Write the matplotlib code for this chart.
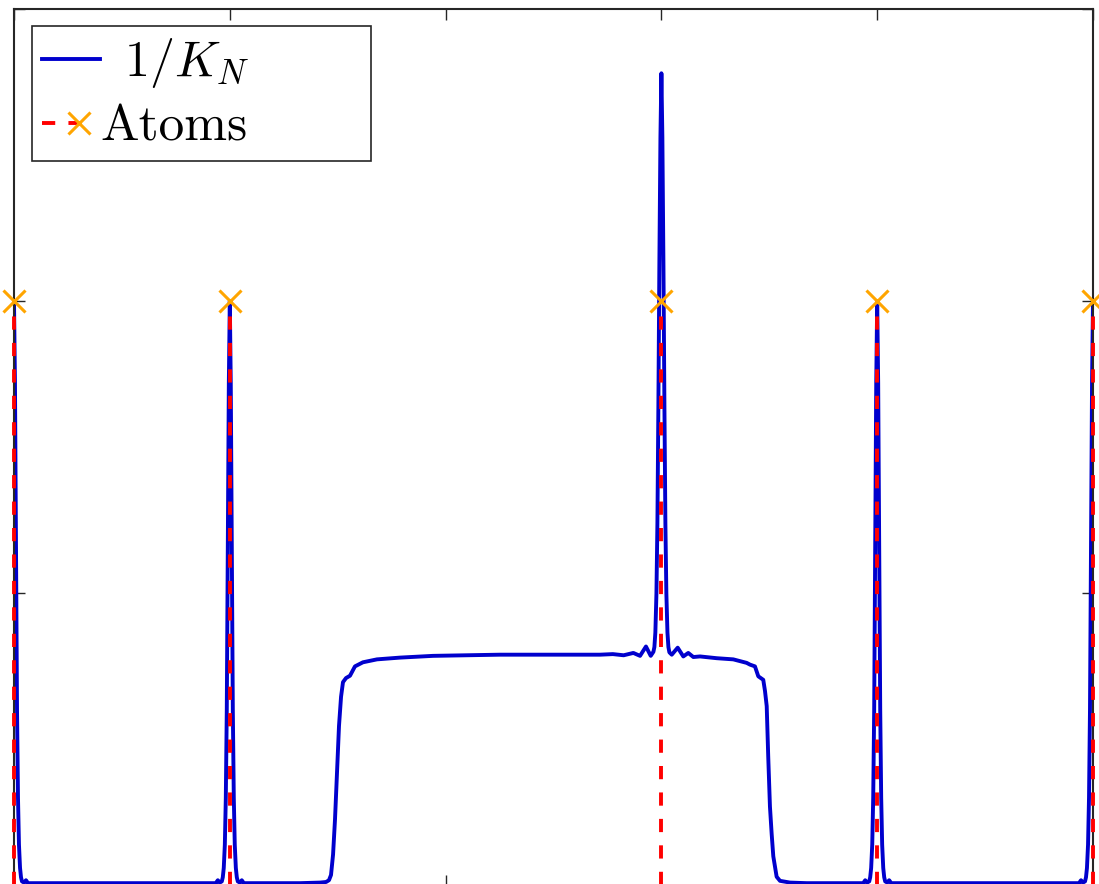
import matplotlib
matplotlib.use("Agg")
import matplotlib.pyplot as plt
from matplotlib.lines import Line2D
from matplotlib.legend_handler import HandlerBase

plt.rcParams['mathtext.fontset'] = 'cm'

# ---- data ----
atom_x = [0.0, 0.2, 0.6, 0.8, 1.0]
atom_w = [1.0, 1.0, 1.0, 1.0, 1.0]

kn_x_left = [0.0, 0.0009, 0.0019, 0.0028, 0.0037, 0.0046, 0.0056, 0.0065, 0.0074,
             0.0093, 0.0111, 0.0130, 0.0148, 0.05, 0.10, 0.15]
kn_y_left = [1.0, 0.86, 0.58, 0.30, 0.15, 0.07, 0.03, 0.014, 0.007,
             0.005, 0.009, 0.004, 0.004, 0.004, 0.004, 0.004]

kn_x_a2 = [0.1852, 0.1870, 0.1889, 0.1907, 0.1926, 0.1935, 0.1944, 0.1954, 0.1963,
           0.1972, 0.1981, 0.1991, 0.2000, 0.2009, 0.2019, 0.2028, 0.2037, 0.2046,
           0.2056, 0.2065, 0.2074, 0.2093, 0.2111, 0.2130, 0.2148, 0.24, 0.2651]
kn_y_a2 = [0.004, 0.004, 0.009, 0.005, 0.007, 0.014, 0.03, 0.07, 0.15,
           0.30, 0.58, 0.86, 1.0, 0.86, 0.58, 0.30, 0.15, 0.07,
           0.03, 0.014, 0.007, 0.005, 0.009, 0.004, 0.004, 0.004, 0.004]

kn_x_plat = [0.2836, 0.2892, 0.2919, 0.2938, 0.2957, 0.2975, 0.2994, 0.3012, 0.3031,
             0.3049, 0.3077, 0.3114, 0.3160, 0.3234, 0.3364, 0.3577, 0.3883, 0.4504,
             0.5000, 0.5431, 0.5550, 0.5650, 0.5740, 0.5802, 0.5857, 0.5901,
             0.5926, 0.5935, 0.5944, 0.5954, 0.5963, 0.5972, 0.5981, 0.5991, 0.6000,
             0.6009, 0.6019, 0.6028, 0.6037, 0.6046, 0.6056, 0.6065, 0.6074,
             0.6096, 0.6151, 0.6203, 0.6249, 0.6296, 0.6358, 0.6512, 0.6666, 0.6790,
             0.6821, 0.6867, 0.6898, 0.6944, 0.6960, 0.6976, 0.6990, 0.7006, 0.7022,
             0.7037, 0.7068, 0.7099, 0.7192, 0.7346, 0.7600]
kn_y_plat = [0.005, 0.006, 0.009, 0.018, 0.053, 0.113, 0.193, 0.273, 0.323,
             0.348, 0.355, 0.359, 0.375, 0.382, 0.387, 0.390, 0.393, 0.395,
             0.395, 0.395, 0.396, 0.394, 0.398, 0.393, 0.409, 0.393,
             0.400, 0.408, 0.433, 0.50, 0.62, 0.82, 1.06, 1.28, 1.390,
             1.28, 1.06, 0.82, 0.62, 0.50, 0.433, 0.408, 0.399,
             0.395, 0.407, 0.392, 0.398, 0.391, 0.392, 0.389, 0.387, 0.381,
             0.378, 0.375, 0.358, 0.352, 0.333, 0.307, 0.221, 0.135, 0.088,
             0.050, 0.015, 0.008, 0.005, 0.004, 0.004]

kn_x_a4 = [0.7852, 0.7870, 0.7889, 0.7907, 0.7926, 0.7935, 0.7944, 0.7954, 0.7963,
           0.7972, 0.7981, 0.7991, 0.8000, 0.8009, 0.8019, 0.8028, 0.8037, 0.8046,
           0.8056, 0.8065, 0.8074, 0.8093, 0.8111, 0.8130, 0.8148, 0.85, 0.90, 0.95]
kn_y_a4 = [0.004, 0.004, 0.009, 0.005, 0.007, 0.014, 0.03, 0.07, 0.15,
           0.30, 0.58, 0.86, 1.0, 0.86, 0.58, 0.30, 0.15, 0.07,
           0.03, 0.014, 0.007, 0.005, 0.009, 0.004, 0.004, 0.004, 0.004, 0.004]

kn_x_right = [0.9852, 0.9870, 0.9889, 0.9907, 0.9926, 0.9935, 0.9944, 0.9954, 0.9963,
              0.9972, 0.9981, 0.9991, 1.0]
kn_y_right = [0.004, 0.004, 0.009, 0.005, 0.007, 0.014, 0.03, 0.07, 0.15,
              0.30, 0.58, 0.86, 1.0]

x_ticks = [0.0, 0.2, 0.4, 0.6, 0.8, 1.0]
y_ticks = [0.0, 0.5, 1.0, 1.5]

label_kn = r'$1/K_N$'
label_atoms = 'Atoms'

# ---- styles ----
BLUE = '#0000CD'
RED = '#FF0000'
ORANGE = '#FFA500'
DARK = '#262626'

kn_x = kn_x_left + kn_x_a2 + kn_x_plat + kn_x_a4 + kn_x_right
kn_y = kn_y_left + kn_y_a2 + kn_y_plat + kn_y_a4 + kn_y_right

fig = plt.figure(figsize=(10.99, 8.84), dpi=100)
ax = fig.add_axes([14 / 1099, -1.5 / 884, 1079 / 1099, 876.5 / 884])

line_kn, = ax.plot(kn_x, kn_y, color=BLUE, lw=2.8, zorder=2, label=label_kn)
for xa, wa in zip(atom_x, atom_w):
    ax.plot([xa, xa], [0, wa], color=RED, lw=2.8, dashes=(3.4, 3.4), zorder=3,
            clip_on=False)
mk, = ax.plot(atom_x, atom_w, ls='none', marker='x', ms=16, mew=2.2, color=ORANGE,
              zorder=4, clip_on=False, label=label_atoms)

ax.set_xlim(0, 1)
ax.set_ylim(0, 1.5)
ax.set_xticks(x_ticks)
ax.set_yticks(y_ticks)
ax.tick_params(direction='in', length=8, width=1.0, color=DARK,
               top=True, right=True, labelbottom=False, labelleft=False)
for s in ax.spines.values():
    s.set_color(DARK)
    s.set_linewidth(1.5)


class StemHandler(HandlerBase):
    def create_artists(self, legend, orig_handle, xdescent, ydescent,
                       width, height, fontsize, trans):
        y = (height - ydescent) / 2
        ln = Line2D([-xdescent, -xdescent + width * 0.62], [y, y], color=RED,
                    lw=2.8, dashes=(3.4, 3.4))
        m = Line2D([-xdescent + width * 0.64], [y], ls='none', marker='x',
                   ms=16, mew=2.2, color=ORANGE)
        ln.set_transform(trans)
        m.set_transform(trans)
        return [ln, m]


leg_x0, leg_top, leg_w = 32 / 1099, 1 - 26 / 884, 339 / 1099
leg = ax.legend(handles=[line_kn, mk], labels=[label_kn, label_atoms],
                handler_map={mk: StemHandler()},
                loc='upper left', bbox_to_anchor=(leg_x0, leg_top - 0.2, leg_w, 0.2),
                bbox_transform=fig.transFigure, borderaxespad=0, mode='expand',
                fontsize=36, fancybox=False, framealpha=1, edgecolor=DARK,
                handlelength=1.15, handletextpad=0.4, borderpad=0.2,
                labelspacing=0.3)
leg.get_frame().set_linewidth(1.2)
leg.get_texts()[1].set_fontfamily('cmr10')
leg.get_texts()[1].set_fontsize(37)
# fine horizontal placement of the two labels (display pixels)
leg.get_texts()[0].set_x(5)
leg.get_texts()[1].set_x(-19)

fig.savefig('out.png', dpi=100)
